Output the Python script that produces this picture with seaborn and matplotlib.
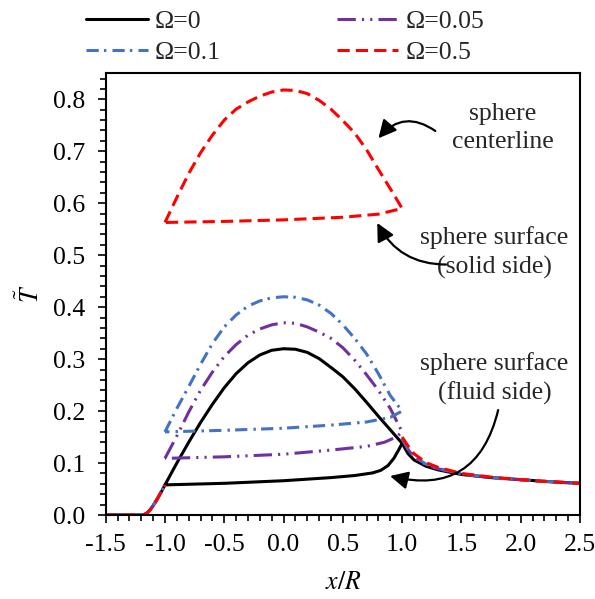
import matplotlib
matplotlib.use("Agg")
import matplotlib.pyplot as plt
from matplotlib.ticker import MultipleLocator, FormatStrFormatter
import seaborn as sns

# ---- data: dimensionless temperature along x/R ----
# fluid region upstream of the sphere (shared by all Omega)
x_fluid_left = [-1.5, -1.2, -1.175, -1.15, -1.125, -1.1, -1.075, -1.05, -1.025, -1.0]
T_fluid_left = [0.0, 0.0, 0.001, 0.004, 0.010, 0.018, 0.027, 0.037, 0.047, 0.058]

# fluid region downstream of the sphere
x_fluid_right = [1.0, 1.05, 1.1, 1.2, 1.3, 1.5, 1.75, 2.0, 2.25, 2.5]
T_right_0 = [0.138, 0.118, 0.106, 0.094, 0.087, 0.078, 0.072, 0.068, 0.064, 0.061]
T_right_005 = [0.146, 0.126, 0.111, 0.097, 0.089, 0.079, 0.072, 0.068, 0.064, 0.061]
T_right_01 = [0.147, 0.128, 0.113, 0.098, 0.090, 0.079, 0.072, 0.068, 0.064, 0.061]
T_right_05 = [0.150, 0.133, 0.118, 0.101, 0.092, 0.080, 0.073, 0.068, 0.064, 0.061]

# centerline inside the sphere
x_center = [-1.0, -0.9, -0.8, -0.7, -0.6, -0.5, -0.4, -0.3, -0.2, -0.1, 0.0,
            0.1, 0.2, 0.3, 0.4, 0.5, 0.6, 0.7, 0.8, 0.9, 1.0]
T_center_0 = [0.058, 0.100, 0.140, 0.178, 0.213, 0.245, 0.272, 0.293, 0.308, 0.317, 0.320,
              0.319, 0.313, 0.301, 0.284, 0.266, 0.243, 0.217, 0.190, 0.164, 0.138]
T_center_005 = [0.109, 0.152, 0.198, 0.240, 0.275, 0.305, 0.328, 0.346, 0.358, 0.366, 0.370,
                0.369, 0.362, 0.352, 0.340, 0.322, 0.298, 0.270, 0.240, 0.205, 0.160]
T_center_01 = [0.160, 0.205, 0.247, 0.290, 0.330, 0.362, 0.385, 0.402, 0.412, 0.418, 0.420,
               0.419, 0.414, 0.404, 0.388, 0.366, 0.340, 0.310, 0.272, 0.230, 0.200]
T_center_05 = [0.563, 0.611, 0.657, 0.697, 0.731, 0.760, 0.781, 0.795, 0.806, 0.814, 0.818,
               0.817, 0.811, 0.798, 0.781, 0.759, 0.735, 0.703, 0.665, 0.628, 0.590]

# sphere surface (solid side; equals fluid side for Omega = 0)
x_surf_0 = [-1.0, -0.5, 0.0, 0.4, 0.6, 0.75, 0.82, 0.88, 0.93, 0.97, 1.0]
T_surf_0 = [0.058, 0.061, 0.066, 0.072, 0.076, 0.081, 0.086, 0.095, 0.109, 0.125, 0.138]
x_surf_005 = [-1.0, -0.5, 0.0, 0.4, 0.7, 0.85, 0.95, 1.0]
T_surf_005 = [0.109, 0.112, 0.117, 0.125, 0.132, 0.140, 0.150, 0.160]
x_surf_01 = [-1.0, -0.5, 0.0, 0.4, 0.7, 0.9, 1.0]
T_surf_01 = [0.160, 0.163, 0.167, 0.173, 0.179, 0.188, 0.200]
x_surf_05 = [-1.0, -0.5, 0.0, 0.5, 0.8, 1.0]
T_surf_05 = [0.563, 0.565, 0.568, 0.573, 0.579, 0.590]

labels = ["Ω=0", "Ω=0.05", "Ω=0.1", "Ω=0.5"]

series = [
    (labels[0], T_center_0, x_surf_0, T_surf_0, T_right_0, "black", "-"),
    (labels[1], T_center_005, x_surf_005, T_surf_005, T_right_005, "#7030A0",
     (0, (6, 2, 0.7, 2, 0.7, 2))),
    (labels[2], T_center_01, x_surf_01, T_surf_01, T_right_01, "#4472C4",
     (0, (4, 1.7, 0.8, 2))),
    (labels[3], T_center_05, x_surf_05, T_surf_05, T_right_05, "#FF0000",
     (0, (4, 2))),
]

sns.set_theme(style="ticks")
plt.rcParams["font.family"] = ["Liberation Serif", "DejaVu Serif"]
plt.rcParams["mathtext.fontset"] = "stix"

fig = plt.figure(figsize=(5.95, 5.99), dpi=100)
ax = fig.add_axes([0.1776, 0.1402, 0.7972, 0.7374])

LW = 2.2
handles = {}
for name, Tc, xs, Ts, Tr, color, ls in series:
    # closed loop: centerline from -1 to 1, then back along the surface
    loop_x = list(x_center) + list(reversed(xs))
    loop_T = list(Tc) + list(reversed(Ts))
    for xx, yy in [(x_fluid_left, T_fluid_left), (x_fluid_right, Tr), (loop_x, loop_T)]:
        sns.lineplot(x=xx, y=yy, ax=ax, sort=False, estimator=None,
                     color=color, lw=LW)
        line = ax.lines[-1]
        line.set_linestyle(ls)
        line.set_dash_capstyle("butt")
    handles[name] = ax.lines[-1]

ax.set_xlim(-1.5, 2.5)
ax.set_ylim(0, 0.85)
ax.xaxis.set_major_locator(MultipleLocator(0.5))
ax.xaxis.set_minor_locator(MultipleLocator(0.1))
ax.yaxis.set_major_locator(MultipleLocator(0.1))
ax.yaxis.set_minor_locator(MultipleLocator(0.02))
ax.xaxis.set_major_formatter(FormatStrFormatter("%.1f"))
ax.yaxis.set_major_formatter(FormatStrFormatter("%.1f"))

FS = 18.5
ax.tick_params(which="major", direction="out", length=6, width=1.2,
               labelsize=FS, color="black", labelcolor="black")
ax.tick_params(axis="x", which="major", pad=8)
ax.tick_params(axis="y", which="major", pad=9)
ax.tick_params(which="minor", direction="out", length=4, width=1.2, color="black")
for sp in ax.spines.values():
    sp.set_visible(True)
    sp.set_linewidth(1.5)
    sp.set_color("black")

ax.set_xlabel(r"$x/R$", fontsize=FS, color="black", labelpad=11)
ax.set_ylabel(r"$\tilde{T}$", fontsize=FS, color="black", labelpad=6)

order = [labels[0], labels[2], labels[1], labels[3]]
fig.legend([handles[k] for k in order], order, ncol=2, frameon=False,
           fontsize=FS, loc="upper left", bbox_to_anchor=(0.128, 1.0),
           handlelength=2.4, handletextpad=0.27, columnspacing=4.5,
           labelspacing=0.3, borderaxespad=0)

# text annotations with curved arrows
TXT = dict(ha="center", va="center", fontsize=FS, linespacing=1.35)
ax.text(1.85, 0.744, "sphere\ncenterline", **TXT)
ax.text(1.778, 0.505, "sphere surface\n(solid side)", **TXT)
ax.text(1.778, 0.263, "sphere surface\n(fluid side)", **TXT)

arrow = dict(arrowstyle="-|>,head_length=0.9,head_width=0.45", color="black",
             lw=1.6, shrinkA=0, shrinkB=0)
ax.annotate("", xy=(0.80, 0.725), xytext=(1.28, 0.739),
            arrowprops=dict(arrow, connectionstyle="arc3,rad=0.45"))
ax.annotate("", xy=(0.79, 0.562), xytext=(1.37, 0.482),
            arrowprops=dict(arrow, connectionstyle="arc3,rad=-0.3"))
ax.annotate("", xy=(0.898, 0.075), xytext=(1.81, 0.202),
            arrowprops=dict(arrow, connectionstyle="arc3,rad=-0.5"))

fig.savefig("out.png", dpi=100)
